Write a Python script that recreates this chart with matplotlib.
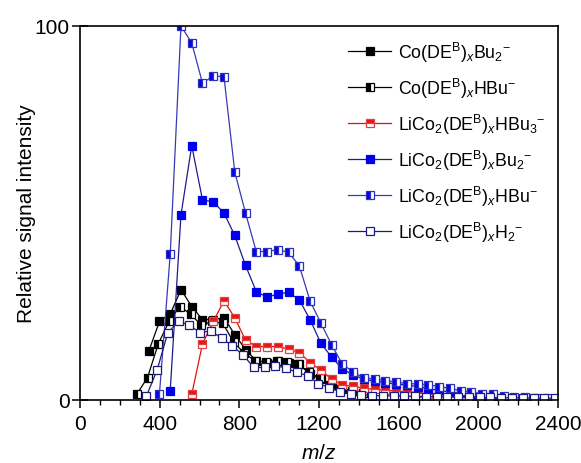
import matplotlib
matplotlib.use("Agg")
import matplotlib.pyplot as plt
from matplotlib.ticker import MultipleLocator, FixedLocator

plt.rcParams['font.family'] = ['Liberation Sans', 'DejaVu Sans']
plt.rcParams['mathtext.fontset'] = 'custom'
plt.rcParams['mathtext.rm'] = 'Liberation Sans'
plt.rcParams['mathtext.it'] = 'Liberation Sans:italic'
plt.rcParams['mathtext.bf'] = 'Liberation Sans:bold'

# ---- data (m/z, relative intensity) ----
mz_co_bu2 = [345, 399, 453, 507, 561, 615, 669, 723, 777, 831, 885, 939, 993, 1047,
             1101, 1155, 1209, 1263, 1317, 1371, 1425]
i_co_bu2 = [13, 21, 23, 29.5, 25, 21.5, 21.5, 22, 17.5, 13.5, 10.5, 10, 10.5, 10,
            9.5, 7, 5.5, 4, 3, 2.5, 2]

mz_co_hbu = [285, 339, 393, 447, 501, 555, 609, 663, 717, 771, 825, 879, 933, 987,
             1041, 1095, 1149, 1203, 1257, 1311, 1365, 1419]
i_co_hbu = [1.5, 6, 15, 21, 25, 23, 20, 21, 20.5, 15.5, 12.5, 10.5, 10.2, 10.5,
            10.2, 9.5, 7.4, 5.9, 4, 3, 2.5, 2]

mz_li_hbu3 = [561, 615, 669, 723, 777, 831, 885, 939, 993, 1047, 1101, 1155, 1209,
              1263, 1317, 1371, 1425, 1479, 1533, 1587, 1641, 1695, 1749, 1803, 1857,
              1911, 1965, 2019, 2073, 2127, 2181, 2235, 2289, 2343, 2397]
i_li_hbu3 = [1.5, 15, 21, 26.5, 22, 16, 14.3, 14.3, 14.3, 13.6, 12.7, 10, 8, 5.6, 4,
             3.7, 3.1, 2.9, 2.6, 2.4, 2.2, 2.0, 1.6, 1.3, 1.0, 0.9, 0.8, 0.7, 0.6,
             0.5, 0.5, 0.4, 0.4, 0.3, 0.3]

mz_li_bu2 = [453, 507, 561, 615, 669, 723, 777, 831, 885, 939, 993, 1047, 1101, 1155,
             1209, 1263, 1317, 1371, 1425, 1479, 1533, 1587, 1641, 1695, 1749, 1803,
             1857, 1911, 1965, 2019, 2073, 2127, 2181, 2235, 2289, 2343, 2397]
i_li_bu2 = [2.5, 49.5, 68, 53.5, 53, 50, 44, 36, 29, 27.5, 28.3, 28.8, 26.8, 21.5,
            15.2, 11.5, 8.3, 6.7, 5.6, 5.0, 4.6, 4.3, 4.0, 3.6, 3.0, 2.6, 2.1, 1.8,
            1.4, 1.1, 0.9, 0.7, 0.6, 0.5, 0.4, 0.35, 0.3]

mz_li_hbu = [399, 453, 507, 561, 615, 669, 723, 777, 831, 885, 939, 993, 1047, 1101,
             1155, 1209, 1263, 1317, 1371, 1425, 1479, 1533, 1587, 1641, 1695, 1749,
             1803, 1857, 1911, 1965, 2019, 2073, 2127, 2181, 2235, 2289, 2343, 2397]
i_li_hbu = [1.7, 39, 100, 95.5, 84.7, 86.7, 86.4, 61, 50, 39.7, 39.7, 40.2, 39.5,
            35.9, 26.5, 20.6, 14.8, 9.6, 7.5, 5.9, 5.6, 5.2, 4.8, 4.4, 4.3, 4.1, 3.6,
            3.1, 2.5, 2.1, 1.7, 1.5, 1.2, 0.8, 0.7, 0.6, 0.5, 0.4]

mz_li_h2 = [333, 387, 441, 495, 549, 603, 657, 711, 765, 819, 873, 927, 981, 1035,
            1089, 1143, 1197, 1251, 1305, 1359, 1413, 1467, 1521, 1575, 1629, 1683,
            1737, 1791, 1845, 1899, 1953, 2007, 2061, 2115, 2169, 2223, 2277, 2331, 2385]
i_li_h2 = [1, 8, 18, 21, 20, 18, 18.5, 16.5, 14.5, 12, 8.7, 8.7, 9.2, 8.5, 7.4, 6.5,
           4.4, 3.3, 2.2, 1.6, 1.4, 1.2, 1.1, 1.1, 1.0, 1.0, 0.9, 0.9, 0.8, 0.8, 0.8,
           0.7, 0.7, 0.6, 0.6, 0.6, 0.5, 0.5, 0.5]

labels = [r'Co(DE$^{\mathrm{B}}$)$_{x}$Bu$_{2}$$^{-}$',
          r'Co(DE$^{\mathrm{B}}$)$_{x}$HBu$^{-}$',
          r'LiCo$_{2}$(DE$^{\mathrm{B}}$)$_{x}$HBu$_{3}$$^{-}$',
          r'LiCo$_{2}$(DE$^{\mathrm{B}}$)$_{x}$Bu$_{2}$$^{-}$',
          r'LiCo$_{2}$(DE$^{\mathrm{B}}$)$_{x}$HBu$^{-}$',
          r'LiCo$_{2}$(DE$^{\mathrm{B}}$)$_{x}$H$_{2}$$^{-}$']

fig = plt.figure(figsize=(5.81, 4.64), dpi=100)
ax = fig.add_axes([80/581, 63/464, 478/581, 374/464])

ms = 5.6
mew = 0.9
lw = 0.9

ax.plot(mz_co_bu2, i_co_bu2, '-s', color='black', lw=lw, ms=ms, mew=mew,
        mfc='black', mec='black', label=labels[0])
ax.plot(mz_co_hbu, i_co_hbu, '-s', color='black', lw=lw, ms=ms, mew=mew,
        fillstyle='left', mfc='black', mfcalt='white', mec='black', label=labels[1])
ax.plot(mz_li_hbu3, i_li_hbu3, '-s', color='#e01010', lw=lw, ms=ms, mew=mew,
        fillstyle='top', mfc='#ee1111', mfcalt='white', mec='#e04040', label=labels[2])
ax.plot(mz_li_bu2, i_li_bu2, '-s', color='#1c1c8c', lw=lw, ms=ms, mew=mew,
        mfc='#0000ee', mec='#0000ee', label=labels[3])
ax.plot(mz_li_hbu, i_li_hbu, '-s', color='#3a3ab4', lw=lw, ms=ms, mew=mew,
        fillstyle='left', mfc='#0000ee', mfcalt='white', mec='#3030c0', label=labels[4])
ax.plot(mz_li_h2, i_li_h2, '-s', color='#1c1c78', lw=lw, ms=ms, mew=mew,
        mfc='white', mec='#1c1c80', label=labels[5])

ax.set_xlim(0, 2400)
ax.set_ylim(0, 100)
ax.xaxis.set_major_locator(MultipleLocator(400))
ax.xaxis.set_minor_locator(MultipleLocator(100))
ax.yaxis.set_major_locator(FixedLocator([0, 100]))
ax.tick_params(axis='x', which='major', direction='out', length=6, width=1.1,
               labelsize=15, pad=4)
ax.tick_params(axis='x', which='minor', direction='out', length=3.5, width=1.0)
ax.tick_params(axis='y', which='major', direction='inout', length=11, width=1.1,
               labelsize=15, pad=2)
for s in ax.spines.values():
    s.set_linewidth(1.2)

ax.set_xlabel(r'$m/z$', fontsize=15, labelpad=7)
ax.set_ylabel('Relative signal intensity', fontsize=15, labelpad=-1)

leg = ax.legend(loc='upper right', bbox_to_anchor=(1.0, 0.997), frameon=False,
                fontsize=12.8, handlelength=2.4, handletextpad=0.4,
                labelspacing=0.67, borderaxespad=0.3)

fig.savefig('out.png', dpi=100)
